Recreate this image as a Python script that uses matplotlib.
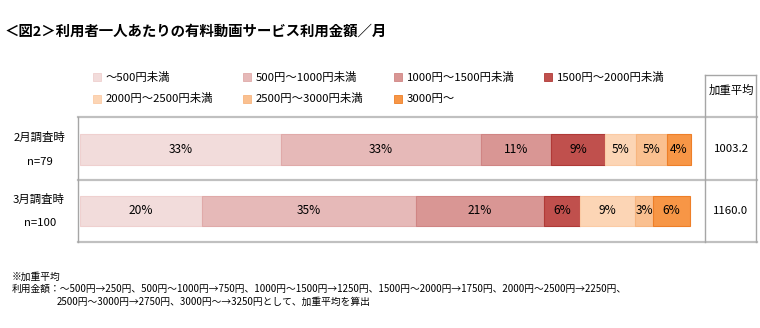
import matplotlib
matplotlib.use("Agg")
import matplotlib.pyplot as plt
from matplotlib.lines import Line2D
from matplotlib.patches import Rectangle

plt.rcParams["font.family"] = ["Noto Sans CJK JP", "DejaVu Sans"]

# data
categories = ["～500円未満", "500円～1000円未満", "1000円～1500円未満", "1500円～2000円未満",
              "2000円～2500円未満", "2500円～3000円未満", "3000円～"]
rows = ["2月調査時\nn=79", "3月調査時\nn=100"]
feb = [32.9, 32.9, 11.4, 8.9, 5.1, 5.1, 3.8]
mar = [20, 35, 21, 6, 9, 3, 6]
weighted_avg = ["1003.2", "1160.0"]

colors = ["#F2DCDB", "#E6B9B8", "#D99694", "#C0504D", "#FCD5B5", "#FAC090", "#F79646"]
edges = ["#EFD0CF", "#E0AAA9", "#D08584", "#B03A37", "#FBCBA5", "#F7B57F", "#EE7F28"]

W, H = 760, 328
fig = plt.figure(figsize=(W / 100, H / 100), dpi=100)


def fx(px):
    return px / W


def fy(py):
    return 1 - py / H


# title
fig.text(fx(5), fy(32), "＜図2＞利用者一人あたりの有料動画サービス利用金額／月",
         fontsize=10.4, fontweight="bold", va="center", ha="left")

# legend
leg_pos = [(97, 77), (247, 77), (398, 77), (548, 77), (97, 99), (247, 99), (398, 99)]
for (lx, ly), name, c, e in zip(leg_pos, categories, colors, edges):
    fig.patches.append(Rectangle((fx(lx - 4), fy(ly + 4)), 8 / W, 8 / H,
                                 transform=fig.transFigure, facecolor=c,
                                 edgecolor=e, linewidth=0.6))
    fig.text(fx(lx + 9), fy(ly), name, fontsize=8.2, va="center", ha="left")

# bars
ax = fig.add_axes([fx(78), fy(242), fx(757) - fx(78), (242 - 117) / H])
ax.set_xlim(-2 * 100 / 610, (757 - 80) * 100 / 610)
ax.set_ylim(1 + (242 - 211) / 61.5, -32.5 / 61.5)
ax.axis("off")

for i, vals in enumerate([feb, mar]):
    left = 0
    for v, c, e in zip(vals, colors, edges):
        ax.barh(i, v, left=left, height=0.5, color=c, edgecolor=e, linewidth=0.8)
        ax.text(left + v / 2, i, f"{round(v)}%", ha="center", va="center", fontsize=8.6)
        left += v

# frame lines
line_kw = dict(transform=fig.transFigure, color="#C0C0C0", linewidth=1.6)
vline_kw = dict(transform=fig.transFigure, color="#A6A6A6", linewidth=1.0)
for yy in [117, 179.5, 241.5]:
    fig.lines.append(Line2D([fx(78), fx(757)], [fy(yy), fy(yy)], **line_kw))
fig.lines.append(Line2D([fx(78), fx(78)], [fy(117), fy(242)], **vline_kw))
fig.lines.append(Line2D([fx(705), fx(705)], [fy(75), fy(242)], **vline_kw))
fig.lines.append(Line2D([fx(756), fx(756)], [fy(75), fy(242)], **vline_kw))
fig.lines.append(Line2D([fx(705), fx(756)], [fy(75), fy(75)], **vline_kw))

fig.text(fx(731), fy(90), "加重平均", fontsize=8.2, ha="center", va="center")

# row labels and averages
row_y = [149.5, 211]
for ry, lab, avg in zip(row_y, rows, weighted_avg):
    top, bottom = lab.split("\n")
    fig.text(fx(39), fy(ry - 12), top, fontsize=8.2, ha="center", va="center")
    fig.text(fx(40), fy(ry + 12), bottom, fontsize=8.2, ha="center", va="center")
    fig.text(fx(731), fy(ry), avg, fontsize=8.2, ha="center", va="center")

# footnote
fig.text(fx(12), fy(277), "※加重平均", fontsize=7, ha="left", va="center")
fig.text(fx(12), fy(289),
         "利用金額：～500円→250円、500円～1000円→750円、1000円～1500円→1250円、"
         "1500円～2000円→1750円、2000円～2500円→2250円、",
         fontsize=7, ha="left", va="center")
fig.text(fx(57), fy(302), "2500円～3000円→2750円、3000円～→3250円として、加重平均を算出",
         fontsize=7, ha="left", va="center")

fig.savefig("out.png", dpi=100)
